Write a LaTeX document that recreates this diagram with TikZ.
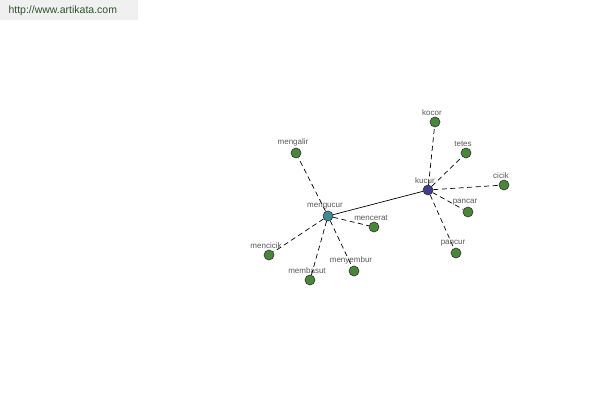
\documentclass[tikz,border=0pt]{standalone}
\usepackage{fontspec}
\setmainfont{Liberation Sans}
\usepackage{tikz}
\usetikzlibrary{positioning}
\definecolor{leafgreen}{RGB}{74,134,58}
\definecolor{hubteal}{RGB}{62,138,150}
\definecolor{hubblue}{RGB}{62,62,138}
\definecolor{sitegreen}{RGB}{44,84,40}
\tikzset{
  word/.style={circle, draw=black!80, fill=leafgreen, minimum size=10pt, inner sep=0pt, line width=0.6pt,
    label={[font=\fontsize{8}{9}\selectfont, text=black!65, inner sep=1pt, label distance=0pt, xshift=-3pt]above:#1}},
  hub/.style={word=#1},
  link/.style={line width=0.7pt, dash pattern=on 5pt off 3.5pt},
  strong/.style={line width=0.7pt},
}

\begin{document}
\begin{tikzpicture}[x=1pt,y=1pt]
  \useasboundingbox (0,0) rectangle (600,-400);
  \fill[white] (0,0) rectangle (600,-400);

  % Site banner
  \node[anchor=north west, fill=black!6, minimum width=138pt, minimum height=20pt, inner sep=0pt] (banner) at (0,0) {};
  \node[anchor=west, font=\fontsize{10.5}{12}\selectfont, text=sitegreen] (site) at (5,-11) {http://www.artikata.com};

  % Hubs
  \node[hub=mengucur, fill=hubteal] (mengucur) at (328,-216) {};
  \node[hub=kucur, fill=hubblue]    (kucur)    at (428,-190) {};

  % Words round mengucur
  \node[word=mengalir]  (mengalir)  at (296,-153) {};
  \node[word=mencerat]  (mencerat)  at (374,-227) {};
  \node[word=mencicik]  (mencicik)  at (269,-255) {};
  \node[word=membasut]  (membasut)  at (310,-280) {};
  \node[word=menyembur] (menyembur) at (354,-271) {};

  % Words round kucur
  \node[word=kocor]  (kocor)  at (435,-122) {};
  \node[word=tetes]  (tetes)  at (466,-153) {};
  \node[word=cicik]  (cicik)  at (504,-185) {};
  \node[word=pancar] (pancar) at (468,-212) {};
  \node[word=pancur] (pancur) at (456,-253) {};

  % Links
  \draw[strong] (mengucur) -- (kucur);

  \draw[link] (mengucur) -- (mengalir);
  \draw[link] (mengucur) -- (mencerat);
  \draw[link] (mengucur) -- (mencicik);
  \draw[link] (mengucur) -- (membasut);
  \draw[link] (mengucur) -- (menyembur);

  \draw[link] (kucur) -- (kocor);
  \draw[link] (kucur) -- (tetes);
  \draw[link] (kucur) -- (cicik);
  \draw[link] (kucur) -- (pancar);
  \draw[link] (kucur) -- (pancur);
\end{tikzpicture}
\end{document}
